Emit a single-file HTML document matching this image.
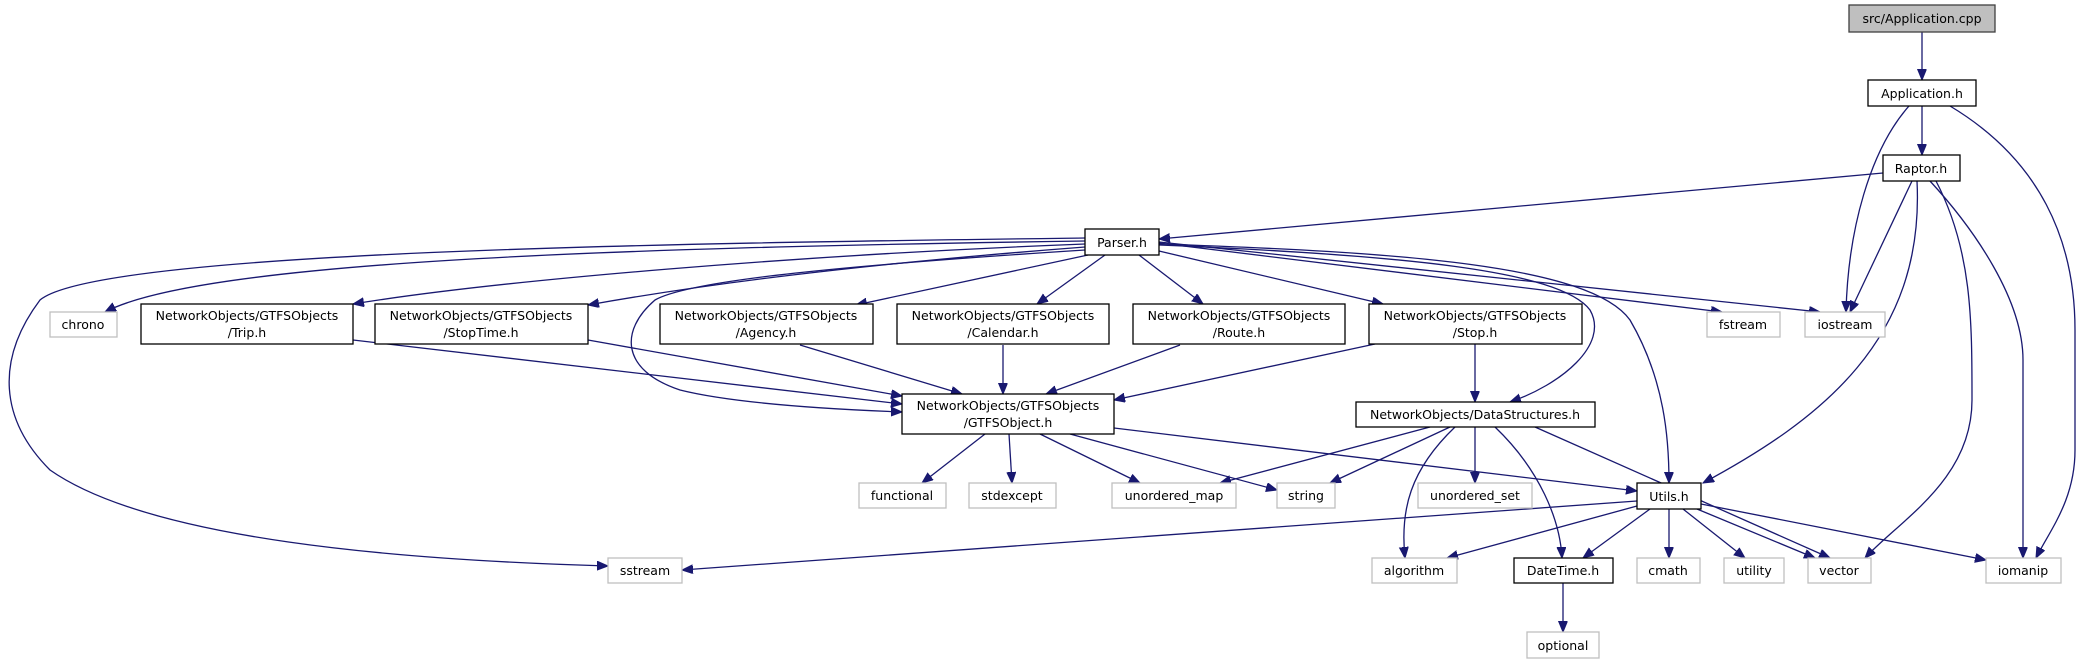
<!DOCTYPE html>
<html><head><meta charset="utf-8"><style>
html,body{margin:0;padding:0;background:#fff;}
svg{display:block;}
text{font-family:"DejaVu Sans","Liberation Sans",sans-serif;font-size:12.5px;fill:#000;text-anchor:middle;}
.n{fill:#fff;stroke:#000;stroke-width:1.3;}
.s{fill:#fff;stroke:#bfbfbf;stroke-width:1.3;}
.e{fill:none;stroke:#191970;stroke-width:1.3;marker-end:url(#a);}
</style></head><body>
<svg width="2080" height="664" viewBox="0 0 2080 664" xmlns="http://www.w3.org/2000/svg">
<defs><marker id="a" markerUnits="userSpaceOnUse" markerWidth="12" markerHeight="10" refX="11" refY="4.5" orient="auto"><path d="M0,0 L11,4.5 L0,9 Z" fill="#191970" stroke="#191970"/></marker></defs>

<!-- edges -->
<path class="e" d="M1922,32 L1922,80"/>
<path class="e" d="M1922,106 L1922,155"/>
<path class="e" d="M1909,106 C1870,150 1848,230 1846,312"/>
<path class="e" d="M1950,106 C2040,160 2075,240 2075,330 L2075,450 C2075,500 2050,530 2036,558"/>
<path class="e" d="M1883,173 L1159,239"/>
<path class="e" d="M1912,181 L1850,312"/>
<path class="e" d="M1917,181 C1925,340 1820,420 1703,483"/>
<path class="e" d="M1936,181 C1972,250 1972,320 1972,400 C1972,480 1900,520 1865,558"/>
<path class="e" d="M1930,181 C1975,230 2023,300 2023,360 L2023,558"/>
<path class="e" d="M1085,241 C600,248 200,262 105,312"/>
<path class="e" d="M1085,238 C700,243 100,250 40,300 C-5,360 0,420 50,470 C150,540 400,560 608,566"/>
<path class="e" d="M1085,244 C800,255 500,280 353,304"/>
<path class="e" d="M1085,247 C850,265 700,285 588,305"/>
<path class="e" d="M1085,250 C850,265 690,280 655,300 C620,330 620,370 680,390 C740,405 850,410 902,412"/>
<path class="e" d="M1088,255 L856,305"/>
<path class="e" d="M1105,255 L1037,304"/>
<path class="e" d="M1139,255 L1203,304"/>
<path class="e" d="M1159,251 L1383,304"/>
<path class="e" d="M1159,245 C1400,255 1560,270 1590,310 C1610,345 1560,385 1510,402"/>
<path class="e" d="M1159,244 C1400,252 1590,265 1630,320 C1665,380 1669,440 1669,483"/>
<path class="e" d="M1159,243 L1722,312"/>
<path class="e" d="M1159,242 L1820,312"/>
<path class="e" d="M353,340 L902,404"/>
<path class="e" d="M588,340 L902,396"/>
<path class="e" d="M800,345 L962,394"/>
<path class="e" d="M1003,345 L1003,394"/>
<path class="e" d="M1180,345 L1046,394"/>
<path class="e" d="M1375,344 L1114,400"/>
<path class="e" d="M1475,344 L1475,402"/>
<path class="e" d="M985,434 L922,483"/>
<path class="e" d="M1009,434 L1012,483"/>
<path class="e" d="M1040,434 L1140,483"/>
<path class="e" d="M1070,434 L1277,490"/>
<path class="e" d="M1114,428 L1637,491"/>
<path class="e" d="M1430,427 L1220,483"/>
<path class="e" d="M1450,427 L1330,483"/>
<path class="e" d="M1455,427 C1410,470 1400,510 1405,558"/>
<path class="e" d="M1475,427 L1475,483"/>
<path class="e" d="M1495,427 C1540,470 1560,520 1562,558"/>
<path class="e" d="M1535,427 L1830,558"/>
<path class="e" d="M1637,501 L682,570"/>
<path class="e" d="M1637,506 L1447,558"/>
<path class="e" d="M1650,509 L1583,558"/>
<path class="e" d="M1669,509 L1669,558"/>
<path class="e" d="M1683,509 L1745,558"/>
<path class="e" d="M1697,509 L1815,558"/>
<path class="e" d="M1701,504 L1986,560"/>
<path class="e" d="M1563,583 L1563,632"/>

<!-- nodes -->
<rect x="1849" y="5" width="146" height="27" fill="#bfbfbf" stroke="#404040" stroke-width="1.3"/><text x="1922" y="23">src/Application.cpp</text>
<rect class="n" x="1868" y="80" width="108" height="26"/><text x="1922" y="98">Application.h</text>
<rect class="n" x="1883" y="155" width="77" height="26"/><text x="1921" y="173">Raptor.h</text>
<rect class="n" x="1085" y="229" width="74" height="26"/><text x="1122" y="247">Parser.h</text>
<rect class="s" x="50" y="312" width="67" height="25"/><text x="83" y="329">chrono</text>
<rect class="n" x="141" y="304" width="212" height="40"/><text x="247" y="320">NetworkObjects/GTFSObjects</text><text x="247" y="337">/Trip.h</text>
<rect class="n" x="375" y="304" width="213" height="40"/><text x="481" y="320">NetworkObjects/GTFSObjects</text><text x="481" y="337">/StopTime.h</text>
<rect class="n" x="660" y="304" width="213" height="40"/><text x="766" y="320">NetworkObjects/GTFSObjects</text><text x="766" y="337">/Agency.h</text>
<rect class="n" x="897" y="304" width="212" height="40"/><text x="1003" y="320">NetworkObjects/GTFSObjects</text><text x="1003" y="337">/Calendar.h</text>
<rect class="n" x="1133" y="304" width="212" height="40"/><text x="1239" y="320">NetworkObjects/GTFSObjects</text><text x="1239" y="337">/Route.h</text>
<rect class="n" x="1369" y="304" width="213" height="40"/><text x="1475" y="320">NetworkObjects/GTFSObjects</text><text x="1475" y="337">/Stop.h</text>
<rect class="s" x="1707" y="312" width="73" height="25"/><text x="1743" y="329">fstream</text>
<rect class="s" x="1805" y="312" width="80" height="25"/><text x="1845" y="329">iostream</text>
<rect class="n" x="902" y="394" width="212" height="40"/><text x="1008" y="410">NetworkObjects/GTFSObjects</text><text x="1008" y="427">/GTFSObject.h</text>
<rect class="n" x="1356" y="402" width="239" height="25"/><text x="1475" y="419">NetworkObjects/DataStructures.h</text>
<rect class="s" x="859" y="483" width="87" height="25"/><text x="902" y="500">functional</text>
<rect class="s" x="969" y="483" width="87" height="25"/><text x="1012" y="500">stdexcept</text>
<rect class="s" x="1112" y="483" width="124" height="25"/><text x="1174" y="500">unordered_map</text>
<rect class="s" x="1277" y="483" width="58" height="25"/><text x="1306" y="500">string</text>
<rect class="s" x="1418" y="483" width="114" height="25"/><text x="1475" y="500">unordered_set</text>
<rect class="n" x="1637" y="483" width="64" height="26"/><text x="1669" y="501">Utils.h</text>
<rect class="s" x="608" y="558" width="74" height="25"/><text x="645" y="575">sstream</text>
<rect class="s" x="1372" y="558" width="85" height="25"/><text x="1414" y="575">algorithm</text>
<rect class="n" x="1514" y="558" width="99" height="25"/><text x="1563" y="575">DateTime.h</text>
<rect class="s" x="1637" y="558" width="63" height="25"/><text x="1668" y="575">cmath</text>
<rect class="s" x="1724" y="558" width="60" height="25"/><text x="1754" y="575">utility</text>
<rect class="s" x="1808" y="558" width="63" height="25"/><text x="1839" y="575">vector</text>
<rect class="s" x="1986" y="558" width="75" height="25"/><text x="2023" y="575">iomanip</text>
<rect class="s" x="1527" y="632" width="72" height="26"/><text x="1563" y="650">optional</text>
</svg>
</body></html>
